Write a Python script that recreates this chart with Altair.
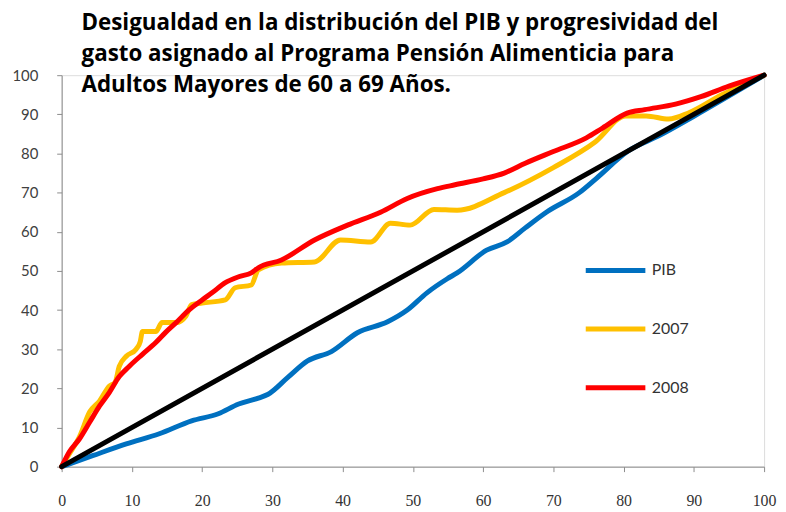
import altair as alt
import pandas as pd

# ---- data ----
pib_x = [0, 4.4, 9.2, 13.9, 18.5, 22.3, 25.2, 28, 29.4, 32.2, 35, 38.4, 42.1, 46.4, 49.2,
         52, 54.9, 56.3, 60.5, 63.4, 66, 69, 73.7, 76.1, 80.7, 85, 90, 95, 100]
pib_y = [0, 2.8, 5.8, 8.4, 11.7, 13.5, 16, 17.5, 18.5, 22.8, 27, 29.4, 34.2, 37, 40,
         44.4, 48, 49.5, 55.3, 57.4, 61, 65, 70, 73.6, 80.7, 84.5, 89.5, 94.7, 100]

y2007_x = [0, 1, 2.5, 4, 5.4, 6.8, 7.6, 8.2, 9.2, 10.6, 11.2, 11.5, 13.4, 14.3, 16.3, 17.7,
           18.5, 20, 23.3, 24.7, 27, 28, 31.3, 36, 39.7, 44, 46.8, 49.6, 53, 56.3, 63, 70,
           76, 80.3, 83.2, 86.4, 89.3, 94, 100]
y2007_y = [0, 3, 7.5, 14, 16.8, 20.6, 21.5, 25.6, 28.2, 30, 32, 34.5, 34.5, 36.8, 36.8, 38.5,
           41.4, 41.8, 42.6, 45.7, 46.4, 50.3, 52, 52.3, 57.9, 57.4, 62.2, 61.7, 65.7, 65.5, 70, 76.4,
           83, 89.6, 89.6, 88.8, 90.4, 95, 100]

y2008_x = [0, 1.1, 2.5, 4, 5.4, 6.8, 8.2, 9.6, 11.5, 13.4, 14.8, 16.3, 18.1, 20, 21.4, 23.3,
           25.2, 27, 28, 31.3, 36, 40.7, 45.4, 49.2, 53.5, 56, 60, 63, 66, 70, 74.7, 77, 80.5,
           83, 87.4, 91, 95, 100]
y2008_y = [0, 3.8, 7, 11.4, 15.5, 19, 23, 25.6, 28.7, 31.7, 34.3, 36.8, 40, 42.6, 44.4, 47,
           48.5, 49.5, 50.8, 52.8, 57.9, 61.7, 65, 68.5, 71, 72, 73.5, 75, 77.5, 80.5, 84, 86.5, 90.3,
           91.2, 92.6, 94.5, 97.2, 100]

diag_x = [0, 100]
diag_y = [0, 100]

series_names = ["PIB", "2007", "2008"]
series_colors = ["#0070C0", "#FFC000", "#FF0000"]
ticks = [0, 10, 20, 30, 40, 50, 60, 70, 80, 90, 100]

title_lines = [
    "Desigualdad en la distribución del PIB y progresividad del",
    "gasto asignado al Programa Pensión Alimenticia para",
    "Adultos Mayores de 60 a 69 Años.",
]

# ---- chart ----
xscale = alt.Scale(domain=[0, 100], nice=False)
yscale = alt.Scale(domain=[0, 100], nice=False)
xaxis = alt.Axis(values=ticks, grid=False, title=None, tickSize=5, labelPadding=21,
                 labelFont="Liberation Sans Narrow", labelFontSize=16, labelColor="#333333",
                 domainColor="#8c8c8c", tickColor="#8c8c8c", labelFlush=False)
yaxis = alt.Axis(values=ticks, grid=False, title=None, tickSize=5, labelPadding=19,
                 labelFont="Lato", labelFontSize=15, labelColor="#404040",
                 domainColor="#8c8c8c", tickColor="#8c8c8c")
color = alt.Color("serie:N",
                  scale=alt.Scale(domain=series_names, range=series_colors),
                  legend=alt.Legend(title=None, orient="none", legendX=525, legendY=164,
                                    symbolType="stroke", symbolSize=3600, symbolStrokeWidth=5,
                                    labelFont="Lato", labelFontSize=16, labelColor="#333333",
                                    rowPadding=16, labelOffset=4))


def series_layer(xs, ys, name):
    df = pd.DataFrame({"x": xs, "y": ys, "serie": name})
    return alt.Chart(df).mark_line(strokeWidth=5, interpolate="monotone", strokeCap="round",
                                   strokeJoin="round").encode(
        x=alt.X("x:Q", scale=xscale, axis=xaxis),
        y=alt.Y("y:Q", scale=yscale, axis=yaxis),
        color=color,
    )


diag = alt.Chart(pd.DataFrame({"x": diag_x, "y": diag_y})).mark_line(
    strokeWidth=5, color="black", strokeCap="round").encode(
    x=alt.X("x:Q", scale=xscale, axis=xaxis),
    y=alt.Y("y:Q", scale=yscale, axis=yaxis),
)

chart = alt.layer(
    series_layer(pib_x, pib_y, "PIB"),
    series_layer(y2007_x, y2007_y, "2007"),
    series_layer(y2008_x, y2008_y, "2008"),
    diag,
).properties(
    width=707, height=394,
    title=alt.TitleParams(text=title_lines, font="Open Sans", fontSize=22.5, fontWeight="bold",
                          anchor="start", frame="group", dx=20, offset=-31, lineHeight=31,
                          color="black"),
    autosize=alt.AutoSizeParams(type="none"),
    padding={"left": 54, "top": 66, "right": 14, "bottom": 40},
).configure_view(stroke=None).configure(background="white")

chart.save("out.html", embed_options={"renderer": "svg", "actions": False})
